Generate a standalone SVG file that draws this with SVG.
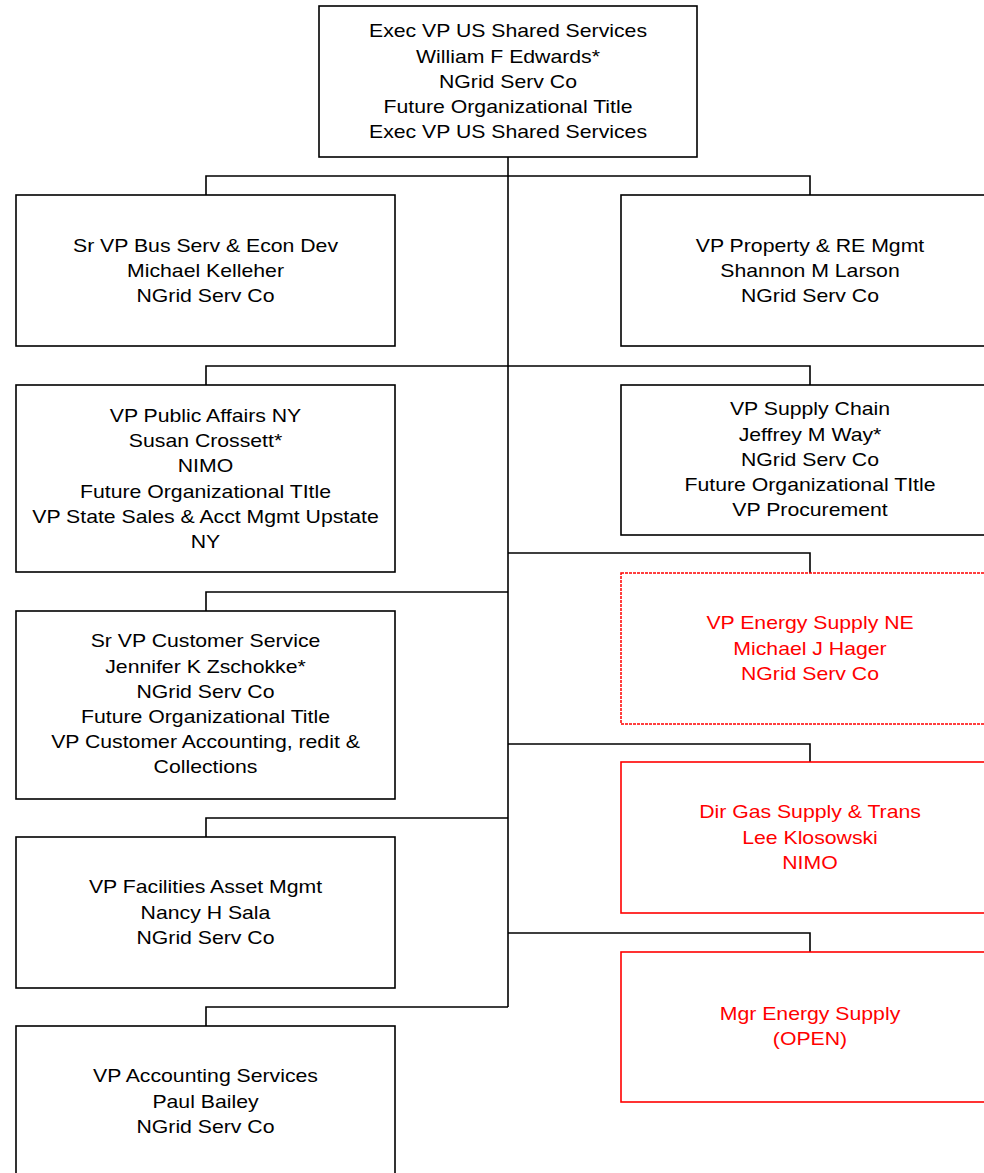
<svg xmlns="http://www.w3.org/2000/svg" width="984" height="1173" viewBox="0 0 984 1173">
<style>
.box{fill:#fff;stroke:#000;stroke-width:1.6}
.rbox{fill:#fff;stroke:#ff0000;stroke-width:1.6}
.dbox{fill:#fff;stroke:#ff0000;stroke-width:1.5;stroke-dasharray:3 1}
.t{font-family:"Liberation Sans",Arial,sans-serif;font-size:18px;text-anchor:middle;fill:#000}
.r{fill:#ff0000}
.c{fill:none;stroke:#000;stroke-width:1.6}
</style>
<rect width="984" height="1173" fill="#fff"/>
<g id="connectors">
<path class="c" d="M508,157 V1007"/>
<path class="c" d="M206,195 V176 H810 V195"/>
<path class="c" d="M206,385 V366 H810 V385"/>
<path class="c" d="M206,611 V592 H508"/>
<path class="c" d="M206,837 V818 H508"/>
<path class="c" d="M206,1026 V1007 H508"/>
<path class="c" d="M508,553 H810 V573"/>
<path class="c" d="M508,744 H810 V762"/>
<path class="c" d="M508,933 H810 V952"/>
</g>
<g id="n-exec">
<rect class="box" x="319" y="6" width="378" height="151"/>
<g transform="translate(508,0) scale(1.18,1)"><text class="t"><tspan x="0" y="37.5">Exec VP US Shared Services</tspan><tspan x="0" y="62.7">William F Edwards*</tspan><tspan x="0" y="87.9">NGrid Serv Co</tspan><tspan x="0" y="113.1">Future Organizational Title</tspan><tspan x="0" y="138.3">Exec VP US Shared Services</tspan></text></g>
</g>
<g id="n-busserv">
<rect class="box" x="16" y="195" width="379" height="151"/>
<g transform="translate(205.5,0) scale(1.18,1)"><text class="t"><tspan x="0" y="251.8">Sr VP Bus Serv &amp; Econ Dev</tspan><tspan x="0" y="277">Michael Kelleher</tspan><tspan x="0" y="302.2">NGrid Serv Co</tspan></text></g>
</g>
<g id="n-property">
<rect class="box" x="621" y="195" width="384" height="151"/>
<g transform="translate(810,0) scale(1.18,1)"><text class="t"><tspan x="0" y="251.8">VP Property &amp; RE Mgmt</tspan><tspan x="0" y="277">Shannon M Larson</tspan><tspan x="0" y="302.2">NGrid Serv Co</tspan></text></g>
</g>
<g id="n-publicaffairs">
<rect class="box" x="16" y="385" width="379" height="187"/>
<g transform="translate(205.5,0) scale(1.18,1)"><text class="t"><tspan x="0" y="422">VP Public Affairs NY</tspan><tspan x="0" y="447.2">Susan Crossett*</tspan><tspan x="0" y="472.4">NIMO</tspan><tspan x="0" y="497.6">Future Organizational TItle</tspan><tspan x="0" y="522.8">VP State Sales &amp; Acct Mgmt Upstate</tspan><tspan x="0" y="548">NY</tspan></text></g>
</g>
<g id="n-supplychain">
<rect class="box" x="621" y="385" width="384" height="150"/>
<g transform="translate(810,0) scale(1.18,1)"><text class="t"><tspan x="0" y="415.5">VP Supply Chain</tspan><tspan x="0" y="440.7">Jeffrey M Way*</tspan><tspan x="0" y="465.9">NGrid Serv Co</tspan><tspan x="0" y="491.1">Future Organizational TItle</tspan><tspan x="0" y="516.3">VP Procurement</tspan></text></g>
</g>
<g id="n-energyne">
<rect class="dbox" x="621" y="573" width="384" height="151"/>
<g transform="translate(810,0) scale(1.18,1)"><text class="t r"><tspan x="0" y="629.5">VP Energy Supply NE</tspan><tspan x="0" y="654.7">Michael J Hager</tspan><tspan x="0" y="679.9">NGrid Serv Co</tspan></text></g>
</g>
<g id="n-customer">
<rect class="box" x="16" y="611" width="379" height="188"/>
<g transform="translate(205.5,0) scale(1.18,1)"><text class="t"><tspan x="0" y="647.5">Sr VP Customer Service</tspan><tspan x="0" y="672.7">Jennifer K Zschokke*</tspan><tspan x="0" y="697.9">NGrid Serv Co</tspan><tspan x="0" y="723.1">Future Organizational Title</tspan><tspan x="0" y="748.3">VP Customer Accounting, redit &amp;</tspan><tspan x="0" y="773.5">Collections</tspan></text></g>
</g>
<g id="n-gassupply">
<rect class="rbox" x="621" y="762" width="384" height="151"/>
<g transform="translate(810,0) scale(1.18,1)"><text class="t r"><tspan x="0" y="818.5">Dir Gas Supply &amp; Trans</tspan><tspan x="0" y="843.7">Lee Klosowski</tspan><tspan x="0" y="868.9">NIMO</tspan></text></g>
</g>
<g id="n-facilities">
<rect class="box" x="16" y="837" width="379" height="151"/>
<g transform="translate(205.5,0) scale(1.18,1)"><text class="t"><tspan x="0" y="893.5">VP Facilities Asset Mgmt</tspan><tspan x="0" y="918.7">Nancy H Sala</tspan><tspan x="0" y="943.9">NGrid Serv Co</tspan></text></g>
</g>
<g id="n-mgrenergy">
<rect class="rbox" x="621" y="952" width="384" height="150"/>
<g transform="translate(810,0) scale(1.18,1)"><text class="t r"><tspan x="0" y="1020">Mgr Energy Supply</tspan><tspan x="0" y="1045.2">(OPEN)</tspan></text></g>
</g>
<g id="n-accounting">
<rect class="box" x="16" y="1026" width="379" height="152"/>
<g transform="translate(205.5,0) scale(1.18,1)"><text class="t"><tspan x="0" y="1082.5">VP Accounting Services</tspan><tspan x="0" y="1107.7">Paul Bailey</tspan><tspan x="0" y="1132.9">NGrid Serv Co</tspan></text></g>
</g>
</svg>
